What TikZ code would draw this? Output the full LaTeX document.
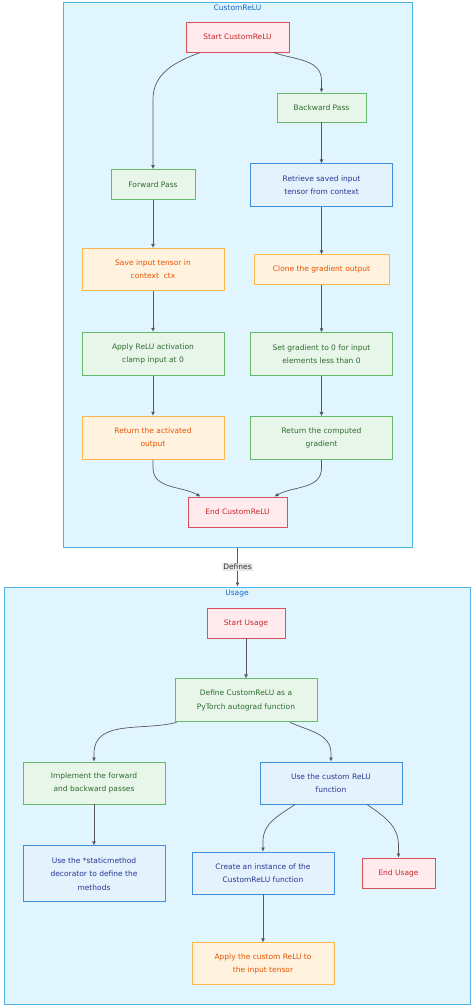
\documentclass[tikz,border=0pt]{standalone}
\usepackage{fontspec}
\setmainfont{DejaVu Sans}
\usepackage{tikz}
\usetikzlibrary{shapes,arrows.meta,positioning,calc}

\definecolor{redfill}{HTML}{FFEBEE}
\definecolor{reddraw}{HTML}{D9505A}
\definecolor{redtext}{HTML}{C62828}
\definecolor{greenfill}{HTML}{E8F5E9}
\definecolor{greendraw}{HTML}{66BB6A}
\definecolor{greentext}{HTML}{2E6B30}
\definecolor{bluefill}{HTML}{E3F2FD}
\definecolor{bluedraw}{HTML}{3F8FE0}
\definecolor{bluetext}{HTML}{283593}
\definecolor{orangefill}{HTML}{FFF3E0}
\definecolor{orangedraw}{HTML}{FFB74D}
\definecolor{orangetext}{HTML}{E65100}
\definecolor{clusterfill}{HTML}{E1F5FE}
\definecolor{clusterdraw}{HTML}{4FB3E8}
\definecolor{clustertext}{HTML}{1565C0}

\begin{document}
\begin{tikzpicture}[x=1pt, y=1pt,
        every node/.style={font=\fontsize{7.5}{13.3}\selectfont},
        block/.style={rectangle, draw, line width=0.9pt, minimum height=30pt, minimum width=142pt, inner sep=0pt, align=center},
        redbox/.style={block, fill=redfill, draw=reddraw, text=redtext},
        greenbox/.style={block, fill=greenfill, draw=greendraw, text=greentext},
        bluebox/.style={block, fill=bluefill, draw=bluedraw, text=bluetext},
        orangebox/.style={block, fill=orangefill, draw=orangedraw, text=orangetext},
        cluster/.style={rectangle, draw=clusterdraw, fill=clusterfill, line width=1pt, inner sep=0pt},
        ctitle/.style={anchor=north, inner sep=3pt, text=clustertext},
        lbl/.style={fill=gray!18, text=black!80, inner sep=1pt},
        arr/.style={-{Latex[length=4pt,width=4pt]}, draw=black!65, line width=0.7pt}
    ]
        \useasboundingbox (0,0) rectangle (474,-1007);

        % Clusters
        \node[cluster, minimum width=349pt, minimum height=545pt] (crelu) at (237.5,-274.5) {};
        \node[ctitle] at (crelu.north) {CustomReLU};
        \node[cluster, minimum width=466pt, minimum height=417pt] (usage) at (237,-795.5) {};
        \node[ctitle] at (usage.north) {Usage};

        % CustomReLU
        \node[redbox, minimum width=103pt] (start) at (237.5,-37) {Start CustomReLU};
        \node[greenbox, minimum width=84pt] (fwd) at (153,-184.5) {Forward Pass};
        \node[orangebox, minimum height=42pt, below=48pt of fwd] (save) {Save input tensor in\\context\ \ ctx};
        \node[greenbox, minimum height=43pt, below=41pt of save] (relu) {Apply ReLU activation\\clamp input at 0};
        \node[orangebox, minimum height=43pt, below=40pt of relu] (reta) {Return the activated\\output};

        \node[greenbox, minimum width=89pt, minimum height=29pt] (bwd) at (321.5,-107.5) {Backward Pass};
        \node[bluebox, minimum height=43pt, below=41pt of bwd] (retr) {Retrieve saved input\\tensor from context};
        \node[orangebox, minimum width=135pt, below=47pt of retr] (clone) {Clone the gradient output};
        \node[greenbox, minimum height=43pt, below=47pt of clone] (setg) {Set gradient to 0 for input\\elements less than 0};
        \node[greenbox, minimum height=43pt, below=40pt of setg] (retg) {Return the computed\\gradient};

        \node[redbox, minimum width=99pt] (endc) at (237.5,-512) {End CustomReLU};

        % Usage
        \node[redbox, minimum width=78pt] (su) at (246,-623) {Start Usage};
        \node[greenbox, minimum height=43pt, below=40pt of su] (def) {Define CustomReLU as a\\PyTorch autograd function};
        \node[greenbox, minimum height=42pt] (impl) at (94,-783) {Implement the forward\\and backward passes};
        \node[bluebox, minimum height=56pt, below=41pt of impl] (stat) {Use the *staticmethod\\decorator to define the\\methods};
        \node[bluebox, minimum height=42pt] (usec) at (331,-783) {Use the custom ReLU\\function};
        \node[bluebox, minimum height=42pt] (inst) at (263,-873) {Create an instance of the\\CustomReLU function};
        \node[redbox, minimum width=73pt] (eu) at (398.5,-873) {End Usage};
        \node[orangebox, minimum height=42pt, below=48pt of inst] (appl) {Apply the custom ReLU to\\the input tensor};

        % Arrows
        \draw[arr] ([xshift=-37pt]start.south) to[out=-160, in=90] ([yshift=70pt]fwd.north) -- (fwd.north);
        \draw[arr] ([xshift=36pt]start.south) to[out=-20, in=90] ([yshift=12pt]bwd.north) -- (bwd.north);
        \draw[arr] (fwd) -- (save);
        \draw[arr] (save) -- (relu);
        \draw[arr] (relu) -- (reta);
        \draw[arr] (bwd) -- (retr);
        \draw[arr] (retr) -- (clone);
        \draw[arr] (clone) -- (setg);
        \draw[arr] (setg) -- (retg);
        \draw[arr] (reta.south) -- ([yshift=-8pt]reta.south) to[out=-90, in=150] ([xshift=-37pt]endc.north);
        \draw[arr] (retg.south) -- ([yshift=-8pt]retg.south) to[out=-90, in=30] ([xshift=37pt]endc.north);

        \draw[arr] (crelu.south) -- node[lbl] {Defines} (crelu.south |- usage.north);

        \draw[arr] (su) -- (def);
        \draw[arr] ([xshift=2pt]def.south west) to[out=-165, in=90] ([yshift=8pt]impl.north) -- (impl.north);
        \draw[arr] ([xshift=44pt]def.south) to[out=-25, in=90] ([yshift=8pt]usec.north) -- (usec.north);
        \draw[arr] (impl) -- (stat);
        \draw[arr] ([xshift=-36pt]usec.south) to[out=-145, in=90] ([yshift=10pt]inst.north) -- (inst.north);
        \draw[arr] ([xshift=36pt]usec.south) to[out=-35, in=90] ([yshift=12pt]eu.north) -- (eu.north);
        \draw[arr] (inst) -- (appl);
    \end{tikzpicture}
\end{document}
